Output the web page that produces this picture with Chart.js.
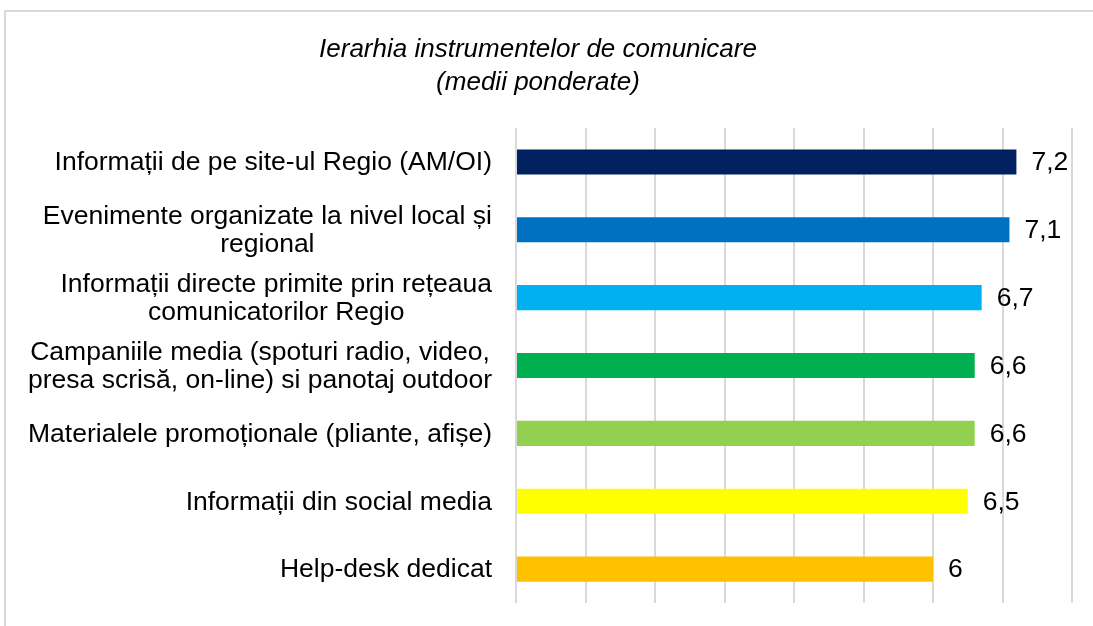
<!DOCTYPE html>
<html>
<head>
<meta charset="utf-8">
<script src="https://cdn.jsdelivr.net/npm/chart.js@4"></script>
<style>
  html, body { margin: 0; padding: 0; background: #ffffff; }
  #wrap { width: 1093px; height: 626px; position: relative; }
</style>
</head>
<body>
<div id="wrap"><canvas id="c" width="1093" height="626"></canvas></div>
<script>
const titleLines = ["Ierarhia instrumentelor de comunicare", "(medii ponderate)"];
const categories = [
  ["Informații de pe site-ul Regio (AM/OI)"],
  ["Evenimente organizate la nivel local și", "regional"],
  ["Informații directe primite prin rețeaua", "comunicatorilor Regio"],
  ["Campaniile media (spoturi radio, video,", "presa scrisă, on-line) si panotaj outdoor"],
  ["Materialele promoționale (pliante, afișe)"],
  ["Informații din social media"],
  ["Help-desk dedicat"]
];
const values = [7.2, 7.1, 6.7, 6.6, 6.6, 6.5, 6];
const barColors = ["#002060", "#0070C0", "#00B0F0", "#00B050", "#92D050", "#FFFF00", "#FFC000"];
const axisMin = 0;
const axisMax = 8;
const axisStep = 1;

const FONT = "'Liberation Sans', Arial, sans-serif";

const framePlugin = {
  id: 'frame',
  beforeDraw(chart) {
    const ctx = chart.ctx;
    ctx.save();
    ctx.fillStyle = '#ffffff';
    ctx.fillRect(0, 0, chart.width, chart.height);
    ctx.strokeStyle = '#d9d9d9';
    ctx.lineWidth = 2;
    ctx.strokeRect(5, 11, chart.width + 20, chart.height + 20);
    ctx.restore();
  }
};

const labelsPlugin = {
  id: 'sideLabels',
  afterDraw(chart) {
    const ctx = chart.ctx;
    const ys = chart.scales.y;
    const xs = chart.scales.x;
    const meta = chart.getDatasetMeta(0);
    ctx.save();
    ctx.font = '26.5px ' + FONT;
    ctx.fillStyle = '#000000';
    ctx.textBaseline = 'middle';
    const lineH = 28;
    categories.forEach((lines, i) => {
      const cy = ys.getPixelForValue(i);
      const w = Math.max(...lines.map(l => ctx.measureText(l).width));
      const right = xs.left - 24;
      const cx = right - w / 2;
      ctx.textAlign = 'center';
      const y0 = cy - (lines.length - 1) * lineH / 2 + 1;
      lines.forEach((l, k) => ctx.fillText(l, cx, y0 + k * lineH));
    });
    // value labels
    ctx.textAlign = 'left';
    meta.data.forEach((bar, i) => {
      const txt = String(values[i]).replace('.', ',');
      ctx.fillText(txt, bar.x + 15, bar.y + 1);
    });
    ctx.restore();
  }
};

new Chart(document.getElementById('c'), {
  type: 'bar',
  data: {
    labels: categories,
    datasets: [{
      data: values,
      backgroundColor: barColors,
      borderWidth: 0,
      barPercentage: 0.37,
      categoryPercentage: 1.0
    }]
  },
  options: {
    indexAxis: 'y',
    responsive: false,
    animation: false,
    events: [],
    layout: { padding: { left: 4, right: 21, top: 0, bottom: 23 } },
    plugins: {
      legend: { display: false },
      tooltip: { enabled: false },
      title: {
        display: true,
        text: titleLines,
        color: '#000000',
        font: { family: FONT, size: 26, style: 'italic', weight: 'normal', lineHeight: 1.27 },
        padding: { top: 33.5, bottom: 28.5 }
      }
    },
    scales: {
      x: {
        min: axisMin,
        max: axisMax,
        ticks: { display: false, stepSize: axisStep },
        grid: { color: '#d9d9d9', lineWidth: 2, drawTicks: false },
        border: { display: false }
      },
      y: {
        ticks: { display: false },
        grid: { display: false },
        border: { display: false },
        afterFit(scale) { scale.width = 512; }
      }
    }
  },
  plugins: [framePlugin, labelsPlugin]
});
</script>
</body>
</html>
